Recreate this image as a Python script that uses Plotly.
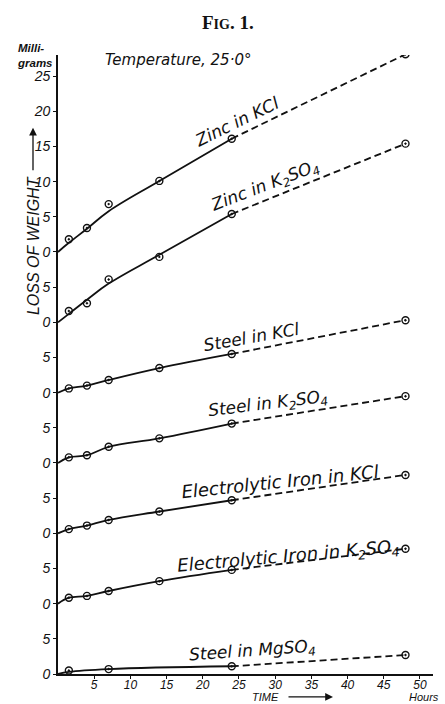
import plotly.graph_objects as go

# ---------------- data ----------------
hours = [1.5, 4, 7, 14, 24, 48]          # observation times
hours_mg = [1.5, 7, 24, 48]              # observation times, steel in MgSO4

zinc_kcl = [1.8, 3.4, 6.8, 10.1, 16.1, 28.1]
zinc_k2so4 = [1.6, 2.7, 6.1, 9.3, 15.4, 25.4]
steel_kcl = [0.6, 1.0, 1.8, 3.5, 5.5, 10.3]
steel_k2so4 = [0.8, 1.1, 2.3, 3.5, 5.6, 9.5]
iron_kcl = [0.6, 1.1, 1.9, 3.1, 4.7, 8.3]
iron_k2so4 = [0.85, 1.1, 1.8, 3.2, 4.8, 7.8]
steel_mgso4 = [0.5, 0.7, 1.1, 2.7]

# smooth (solid) curves drawn through the observations, 0-24 h
curve_hours = [0, 1.5, 4, 7, 14, 24]
curve_hours_mg = [0, 1.5, 7, 24]
zinc_kcl_curve = [0, 1.3, 3.3, 5.8, 10.1, 16.1]
zinc_k2so4_curve = [0, 1.2, 3.2, 5.5, 9.6, 15.4]
steel_kcl_curve = [0, 0.6, 1.0, 1.8, 3.5, 5.5]
steel_k2so4_curve = [0, 0.8, 1.1, 2.3, 3.5, 5.6]
iron_kcl_curve = [0, 0.6, 1.1, 1.9, 3.1, 4.7]
iron_k2so4_curve = [0, 0.85, 1.1, 1.8, 3.2, 4.8]
steel_mgso4_curve = [0, 0.3, 0.7, 1.1]

labels = ["Zinc in KCl", "Zinc in K<sub>2</sub>SO<sub>4</sub>", "Steel in KCl",
          "Steel in K<sub>2</sub>SO<sub>4</sub>", "Electrolytic Iron in KCl",
          "Electrolytic Iron in K<sub>2</sub>SO<sub>4</sub>", "Steel in MgSO<sub>4</sub>"]
baselines = [60, 50, 40, 30, 20, 10, 0]   # each curve drawn on its own zero

x_tick_vals = [5, 10, 15, 20, 25, 30, 35, 40, 45, 50]
x_tick_text = ["5", "10", "15", "20", "25", "30", "35", "40", "45", "50"]
y_tick_vals = [0, 5, 10, 15, 20, 25, 30, 35, 40, 45, 50, 55, 60, 65, 70, 75, 80, 85]
y_tick_text = ["0", "5", "0", "5", "0", "5", "0", "5", "0", "5", "0", "5",
               "0", "5", "10", "15", "20", "25"]

series = [
    (hours, zinc_kcl, curve_hours, zinc_kcl_curve),
    (hours, zinc_k2so4, curve_hours, zinc_k2so4_curve),
    (hours, steel_kcl, curve_hours, steel_kcl_curve),
    (hours, steel_k2so4, curve_hours, steel_k2so4_curve),
    (hours, iron_kcl, curve_hours, iron_kcl_curve),
    (hours, iron_k2so4, curve_hours, iron_k2so4_curve),
    (hours_mg, steel_mgso4, curve_hours_mg, steel_mgso4_curve),
]

# label placement (hours, value above own zero, angle, font size)
label_pos = [(24.6, 18.5, -26, 17), (28.6, 19.3, -21, 17), (26.7, 7.9, -10, 17),
             (29.0, 8.3, -7, 17), (30.7, 7.4, -6, 18), (31.8, 6.6, -5, 18),
             (26.8, 3.2, -4, 17)]

FONT = "Liberation Sans"
LFONT = "DejaVu Sans"
INK = "#111111"

fig = go.Figure()
for (t, v, ct, cv), base in zip(series, baselines):
    fig.add_trace(go.Scatter(x=ct, y=[c + base for c in cv], mode="lines",
                             line=dict(color=INK, width=1.8, shape="spline", smoothing=1.1),
                             hoverinfo="skip", showlegend=False))
    fig.add_trace(go.Scatter(x=t[-2:], y=[c + base for c in v[-2:]], mode="lines",
                             line=dict(color=INK, width=1.8, dash="7px,4px"),
                             hoverinfo="skip", showlegend=False))
    fig.add_trace(go.Scatter(x=t, y=[c + base for c in v], mode="markers",
                             marker=dict(symbol="circle-open-dot", size=7, color=INK,
                                         line=dict(width=1.4, color=INK)),
                             showlegend=False))

annotations = []
for lab, base, (lx, ly, ang, fs) in zip(labels, baselines, label_pos):
    annotations.append(dict(x=lx, y=ly + base, xref="x", yref="y", text=lab,
                            showarrow=False, textangle=ang,
                            xanchor="center", yanchor="middle",
                            font=dict(family=LFONT, size=fs, color=INK, style="italic")))

def P(px, py):
    """pixel position -> paper coordinates of the plot area"""
    return (px - 58) / 375.0, (677 - py) / 622.0

def note(px, py, text, **kw):
    x, y = P(px, py)
    d = dict(x=x, y=y, xref="paper", yref="paper", text=text, showarrow=False,
             xanchor="center", yanchor="middle")
    d.update(kw)
    return d

annotations += [
    note(178, 60, "Temperature, 25·0°",
         font=dict(family=LFONT, size=15, color=INK, style="italic")),
    note(228, 22, "<b>F<span style='font-size:14px'>IG</span>. 1.</b>",
         font=dict(family="Liberation Serif", size=19, color=INK)),
    note(15, 55, "<b>Milli-<br>grams</b>", xanchor="left", align="left",
         font=dict(family=FONT, size=11.5, color=INK, style="italic")),
    note(33, 247, "LOSS OF WEIGHT", textangle=-90,
         font=dict(family=FONT, size=16, color=INK, style="italic")),
    note(265, 700.5, "TIME", borderpad=0,
         font=dict(family=FONT, size=11, color=INK, style="italic")),
    note(424, 700.5, "Hours", borderpad=0,
         font=dict(family=FONT, size=11, color=INK, style="italic")),
]
ax1, ay1 = P(33, 128)
annotations.append(dict(x=ax1, y=ay1, xref="paper", yref="paper", text="", showarrow=True,
                        ax=0, ay=44, arrowhead=2, arrowsize=1.2, arrowwidth=1.3,
                        arrowcolor=INK))
ax2, ay2 = P(333, 700)
annotations.append(dict(x=ax2, y=ay2, xref="paper", yref="paper", text="", showarrow=True,
                        ax=-46, ay=0, arrowhead=2, arrowsize=1.2, arrowwidth=1.3,
                        arrowcolor=INK))

fig.update_layout(
    width=445, height=704,
    margin=dict(l=58, r=12, t=55, b=27),
    paper_bgcolor="white", plot_bgcolor="white",
    showlegend=False,
    annotations=annotations,
    xaxis=dict(range=[0, 51.8], showgrid=False, zeroline=False, showline=True,
               linecolor=INK, linewidth=1.8, ticks="outside", ticklen=3, tickwidth=1.3,
               tickcolor=INK, tickvals=x_tick_vals, ticktext=x_tick_text,
               ticklabelstandoff=-4,
               tickfont=dict(family=FONT, size=12, color=INK, style="italic")),
    yaxis=dict(range=[0, 88], showgrid=False, zeroline=False, showline=True,
               linecolor=INK, linewidth=1.8, ticks="outside", ticklen=3, tickwidth=1.3,
               tickcolor=INK, tickvals=y_tick_vals, ticktext=y_tick_text,
               tickfont=dict(family=FONT, size=14, color=INK, style="italic")),
)

fig.write_html("out.html", config={"displayModeBar": False},
               post_script="document.body.style.margin='0px';")
